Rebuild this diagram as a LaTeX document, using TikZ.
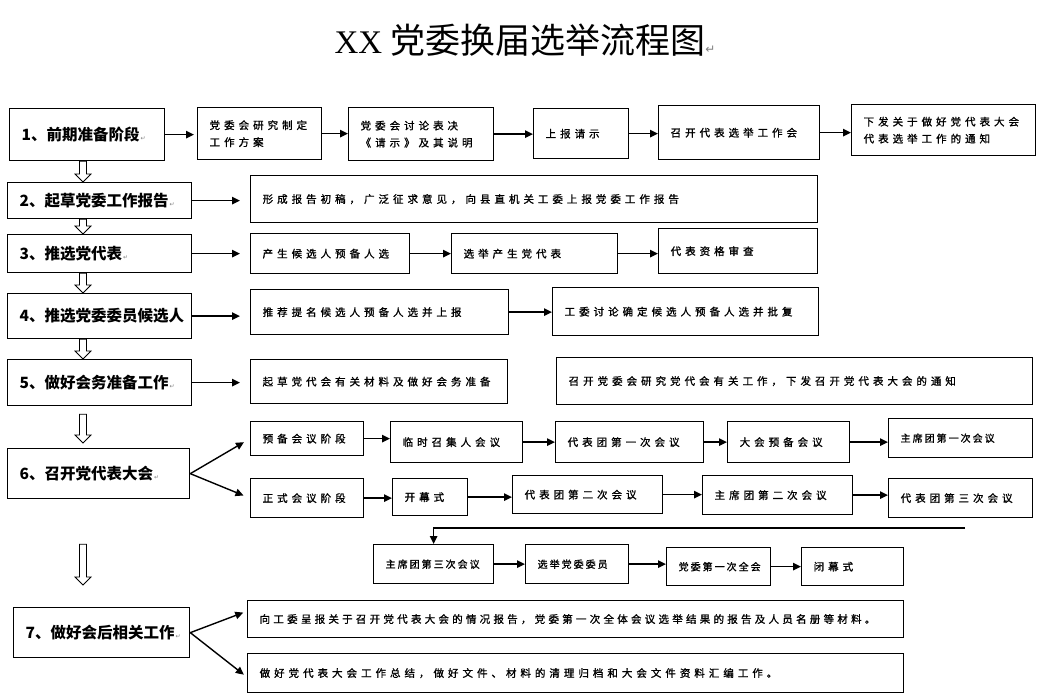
\documentclass[tikz,border=0pt]{standalone}
\usepackage{fontspec}
\setmainfont{Liberation Serif}
\newfontfamily\cjk{Noto Sans CJK SC}
\newfontfamily\cjksp[LetterSpace=38, FakeBold=1.2]{Noto Sans CJK SC}
\newfontfamily\cjkcp[LetterSpace=20, FakeBold=1.2]{Noto Sans CJK SC}
\newfontfamily\symfnt{DejaVu Sans}
\usetikzlibrary{arrows.meta,calc}
\newcommand{\pmark}{{\symfnt\mdseries\fontsize{6}{6}\selectfont\color{gray}\,↵}}

\begin{document}
\begin{tikzpicture}[x=1pt, y=-1pt,
  stepbox/.style={draw, line width=1.3pt, anchor=north west, align=left,
    inner xsep=12pt, inner ysep=2pt, font=\cjk\bfseries\fontsize{15.5}{18}\selectfont},
  sbox/.style={draw, line width=1.3pt, anchor=north west, align=left,
    inner xsep=12pt, inner ysep=2pt, font=\cjksp\fontsize{10.5}{17}\selectfont},
  tight/.style={font=\cjkcp\fontsize{10}{14}\selectfont},
  wh/.code 2 args={\pgfmathsetlengthmacro\boxtw{#1pt-24pt}%
    \tikzset{minimum width=#1pt, minimum height=#2pt, text width=\boxtw}},
  arr/.style={-{Triangle[length=8pt,width=7.5pt]}, line width=1.4pt},
  hollow/.style={draw, line width=0.8pt, fill=white, to path={
    let \p1=(\tikztostart), \p2=(\tikztotarget) in
    (\x1-3.5pt,\y1) -- (\x1-3.5pt,\y2+8pt) -- (\x1-8pt,\y2+8pt) -- (\x1,\y2)
    -- (\x1+8pt,\y2+8pt) -- (\x1+3.5pt,\y2+8pt) -- (\x1+3.5pt,\y1) -- cycle}}
]
\useasboundingbox (0,0) rectangle (1046,698);

% title
\node[anchor=west, font=\fontsize{33}{36}\selectfont] (title) at (331,40)
  {XX {\cjk\fontsize{35}{36}\selectfont 党委换届选举流程图}{\symfnt\fontsize{12}{12}\selectfont\color{gray}↵}};

% main steps
\node[stepbox, wh={155}{52}] (s1) at (9,108) {1、前期准备阶段\pmark};
\node[stepbox, wh={184}{36}] (s2) at (7,182) {2、起草党委工作报告\pmark};
\node[stepbox, wh={184}{38}] (s3) at (7,234) {3、推选党代表\pmark};
\node[stepbox, wh={184}{45}] (s4) at (7,293) {4、推选党委委员候选人};
\node[stepbox, wh={184}{46}] (s5) at (7,359) {5、做好会务准备工作\pmark};
\node[stepbox, wh={182}{50}] (s6) at (7,448) {6、召开党代表大会\pmark};
\node[stepbox, wh={176}{50}] (s7) at (13,607) {7、做好会后相关工作\pmark};

% step 1
\node[sbox, wh={124}{52}] (a1) at (197,107) {党委会研究制定\\工作方案};
\node[sbox, wh={145}{53}] (a2) at (348,107) {党委会讨论表决\\《请示》及其说明};
\node[sbox, wh={95}{50}] (a3) at (533,108) {上报请示};
\node[sbox, wh={161}{54}] (a4) at (658,105) {召开代表选举工作会};
\node[sbox, wh={184}{51}, inner xsep=10pt] (a5) at (851,104) {下发关于做好党代表大会\\代表选举工作的通知};

% step 2
\node[sbox, wh={567}{47}] (b1) at (250,175) {形成报告初稿，广泛征求意见，向县直机关工委上报党委工作报告};

% step 3
\node[sbox, wh={159}{40}] (c1) at (250,233) {产生候选人预备人选};
\node[sbox, wh={166}{40}] (c2) at (451,233) {选举产生党代表};
\node[sbox, wh={159}{45}] (c3) at (658,228) {代表资格审查};

% step 4
\node[sbox, wh={258}{45}] (d1) at (250,289) {推荐提名候选人预备人选并上报};
\node[sbox, wh={266}{48}] (d2) at (552,287) {工委讨论确定候选人预备人选并批复};

% step 5
\node[sbox, wh={257}{44}] (e1) at (250,359) {起草党代会有关材料及做好会务准备};
\node[sbox, wh={476}{47}] (e2) at (556,357) {召开党委会研究党代会有关工作，下发召开党代表大会的通知};

% step 6
\node[sbox, wh={113}{34}] (f1) at (250,421) {预备会议阶段};
\node[sbox, wh={132}{41}] (f2) at (390,421) {临时召集人会议};
\node[sbox, wh={148}{41}] (f3) at (555,421) {代表团第一次会议};
\node[sbox, wh={122}{41}] (f4) at (727,421) {大会预备会议};
\node[sbox, tight, wh={144}{39}] (f5) at (888,418) {主席团第一次会议};
\node[sbox, wh={113}{39}] (g1) at (250,478) {正式会议阶段};
\node[sbox, wh={75}{37}] (g2) at (392,478) {开幕式};
\node[sbox, wh={150}{38}] (g3) at (512,475) {代表团第二次会议};
\node[sbox, wh={150}{39}] (g4) at (702,475) {主席团第二次会议};
\node[sbox, wh={144}{39}] (g5) at (888,478) {代表团第三次会议};
\coordinate (lp) at (965,528);
\node[sbox, tight, wh={120}{39}] (h1) at (373,544) {主席团第三次会议};
\node[sbox, tight, wh={103}{39}] (h2) at (525,544) {选举党委委员};
\node[sbox, tight, wh={104}{38}] (h3) at (666,547) {党委第一次全会};
\node[sbox, wh={102}{38}] (h4) at (801,547) {闭幕式};

% step 7
\node[sbox, wh={656}{37}, inner xsep=11pt, font=\cjksp\fontsize{10.5}{17}\selectfont\addfontfeatures{LetterSpace=31}] (k1) at (247,600)
  {向工委呈报关于召开党代表大会的情况报告，党委第一次全体会议选举结果的报告及人员名册等材料。};
\node[sbox, wh={656}{39}, inner xsep=11pt] (k2) at (247,653)
  {做好党代表大会工作总结，做好文件、材料的清理归档和大会文件资料汇编工作。};

% hollow arrows between steps
\draw[hollow] ([xshift=74pt]s1.south west) to ([xshift=76pt]s2.north west);
\draw[hollow] ([xshift=76pt]s2.south west) to ([xshift=76pt]s3.north west);
\draw[hollow] ([xshift=76pt]s3.south west) to ([xshift=76pt]s4.north west);
\draw[hollow] ([xshift=76pt]s4.south west) to ([xshift=76pt]s5.north west);
\draw[hollow] ([xshift=76pt, yshift=-8pt]s5.south west) to ([xshift=76pt, yshift=5pt]s6.north west);
\draw[hollow] ([xshift=76pt, yshift=-45pt]s6.south west) to ([xshift=70pt, yshift=22pt]s7.north west);

% connectors
\draw[arr, shorten >=3pt] (s1.east) -- (s1.east -| a1.west);
\draw[arr] (a1.east) -- (a1.east -| a2.west);
\draw[arr] (a2.east) -- (a2.east -| a3.west);
\draw[arr] (a3.east) -- (a3.east -| a4.west);
\draw[arr] (a4.east) -- (a4.east -| a5.west);
\draw[arr, shorten >=10pt] (s2.east) -- (s2.east -| b1.west);
\draw[arr, shorten >=10pt] (s3.east) -- (s3.east -| c1.west);
\draw[arr] (c1.east) -- (c1.east -| c2.west);
\draw[arr] (c2.east) -- (c2.east -| c3.west);
\draw[arr, shorten >=10pt] (s4.east) -- (s4.east -| d1.west);
\draw[arr] (d1.east) -- (d1.east -| d2.west);
\draw[arr, shorten >=10pt] (s5.east) -- (s5.east -| e1.west);
\draw[arr, shorten >=7pt] (s6.east) -- (f1.west);
\draw[arr, shorten >=7pt] (s6.east) -- (g1.west);
\draw[arr] (f1.east) -- (f1.east -| f2.west);
\draw[arr] (f2.east) -- (f2.east -| f3.west);
\draw[arr] (f3.east) -- (f3.east -| f4.west);
\draw[arr] (f4.east) -- (f4.east -| f5.west);
\draw[arr] (g1.east) -- (g1.east -| g2.west);
\draw[arr] (g2.east) -- (g2.east -| g3.west);
\draw[arr] (g3.east) -- (g3.east -| g4.west);
\draw[arr] (g4.east) -- (g4.east -| g5.west);
\draw[arr] (lp) -| (h1.north);
\draw[arr] (h1.east) -- (h1.east -| h2.west);
\draw[arr] (h2.east) -- (h2.east -| h3.west);
\draw[arr] (h3.east) -- (h3.east -| h4.west);
\draw[arr, shorten >=4pt] (s7.east) -- ([yshift=8pt]k1.west);
\draw[arr, shorten >=4pt] (s7.east) -- ([yshift=-4pt]k2.west);
\end{tikzpicture}
\end{document}
